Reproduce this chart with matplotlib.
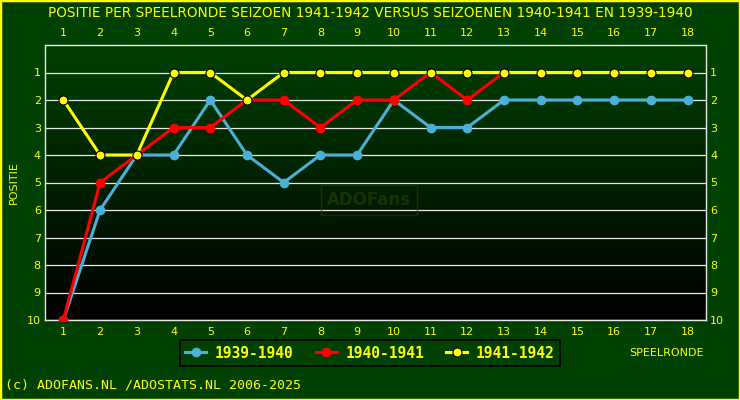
import numpy as np
import matplotlib.pyplot as plt
from matplotlib.patches import Rectangle

rounds = list(range(1, 19))
pos_1939 = [10, 6, 4, 4, 2, 4, 5, 4, 4, 2, 3, 3, 2, 2, 2, 2, 2, 2]
pos_1940 = [10, 5, 4, 3, 3, 2, 2, 3, 2, 2, 1, 2, 1, 1, 1, 1, 1, 1]
pos_1941 = [2, 4, 4, 1, 1, 2, 1, 1, 1, 1, 1, 1, 1, 1, 1, 1, 1, 1]
seasons = ["1939-1940", "1940-1941", "1941-1942"]

BG = "#004000"
YEL = "#ffff00"
FONT = "DejaVu Sans"

fig = plt.figure(figsize=(7.4, 4.0), dpi=100, facecolor=BG)
ax = fig.add_axes([45/740, 1 - 320/400, 661/740, 275/400])
ax.set_facecolor(BG)

# gradient background inside the plot area
grad = np.linspace(0, 1, 256).reshape(-1, 1)
cm = plt.matplotlib.colors.LinearSegmentedColormap.from_list("g", ["#004000", "#000000"])
ax.imshow(grad, cmap=cm, aspect="auto", extent=[0, 1, 0, 1],
          transform=ax.transAxes, zorder=0)

ax.set_xlim(0.5, 18.5)
ax.set_ylim(10, 0)
for y in range(1, 11):
    ax.axhline(y, color="#e8e8e8", lw=0.9, zorder=1)

ax.plot(rounds, pos_1939, color="#4ab0d8", lw=2.2, marker="o", ms=6,
        markeredgecolor="#4ab0d8", zorder=3, label=seasons[0])
ax.plot(rounds, pos_1940, color="#ff0000", lw=2.2, marker="o", ms=6,
        markeredgecolor="#ff0000", zorder=4, label=seasons[1])
ax.plot(rounds, pos_1941, color="#ffff00", lw=2.2, marker="o", ms=6.5,
        markeredgecolor="black", markeredgewidth=0.8, zorder=5, label=seasons[2])

ax.text(0.49, 0.436, "ADOFans", transform=ax.transAxes, ha="center", va="center",
        fontsize=12, fontweight="bold", color="#1f3c00", alpha=0.7, zorder=2,
        bbox=dict(boxstyle="square,pad=0.35", fc="none", ec="#1f3c00", alpha=0.7))

ax.set_xticks(rounds)
ax.set_yticks(range(1, 11))
ax.tick_params(axis="both", length=0, colors=YEL, labelsize=8,
               top=True, labeltop=True, right=True, labelright=True)
ax.tick_params(axis="x", pad=5)
ax.tick_params(axis="y", pad=3)
for s in ax.spines.values():
    s.set_color("#e8e8e8")
    s.set_linewidth(1)

fig.text(0.5, 1 - 13/400, "POSITIE PER SPEELRONDE SEIZOEN 1941-1942 VERSUS SEIZOENEN 1940-1941 EN 1939-1940",
         ha="center", va="center", color=YEL, fontsize=9.8, family=FONT)
fig.text(14/740, 1 - 183/400, "POSITIE", rotation=90, ha="center", va="center",
         color=YEL, fontsize=8, family=FONT)
fig.text(667/740, 1 - 353/400, "SPEELRONDE", ha="center", va="center",
         color=YEL, fontsize=8, family=FONT)
fig.text(5/740, 1 - 385/400, "(c) ADOFANS.NL /ADOSTATS.NL 2006-2025", ha="left", va="center",
         color=YEL, fontsize=9.5, family="DejaVu Sans Mono")

leg = fig.legend(loc="center", bbox_to_anchor=(370/740, 1 - 353/400), ncol=3,
                 frameon=True, facecolor=BG, edgecolor="black", handlelength=1.45,
                 columnspacing=1.5, handletextpad=0.6, borderpad=0.35,
                 prop=dict(family="DejaVu Sans Mono", weight="bold", size=10.5))
leg.get_frame().set_linewidth(1.2)
leg.get_frame().set_boxstyle("square", pad=0.0)
leg.get_frame().set_alpha(1)
for t in leg.get_texts():
    t.set_color(YEL)

fig.patches.append(Rectangle((0, 0), 1, 1, transform=fig.transFigure, fill=False,
                             edgecolor=YEL, lw=2.5, zorder=10))

fig.savefig("out.png", dpi=100, facecolor=BG)
